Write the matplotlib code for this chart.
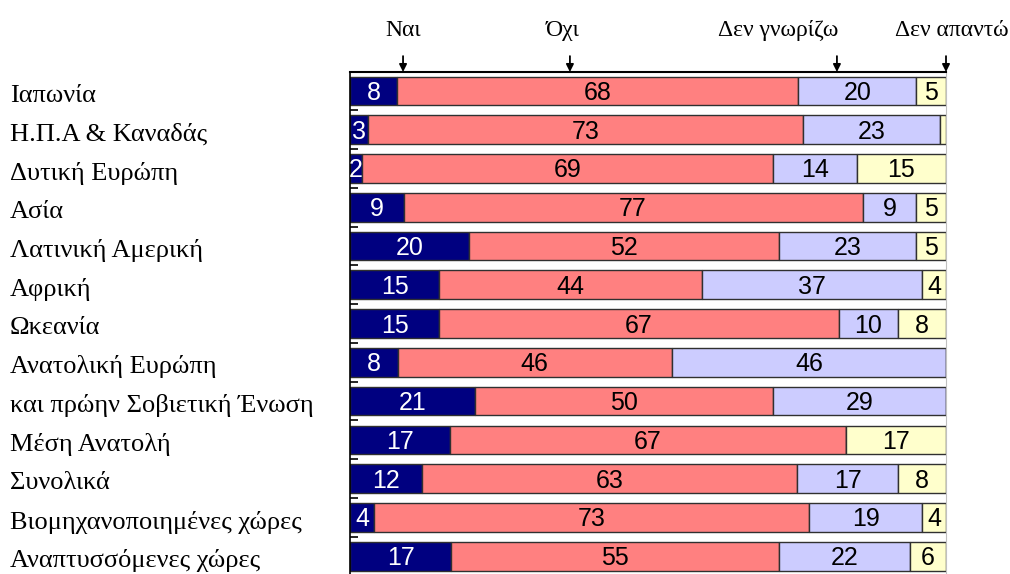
import numpy as np
import matplotlib.pyplot as plt
import matplotlib.transforms as mtransforms

# Δεδομένα (ποσοστά ανά περιοχή)
regions = ["Ιαπωνία", "Η.Π.Α & Καναδάς", "Δυτική Ευρώπη", "Ασία", "Λατινική Αμερική",
           "Αφρική", "Ωκεανία", "Ανατολική Ευρώπη", "και πρώην Σοβιετική Ένωση",
           "Μέση Ανατολή", "Συνολικά", "Βιομηχανοποιημένες χώρες", "Αναπτυσσόμενες χώρες"]
answers = ["Ναι", "Όχι", "Δεν γνωρίζω", "Δεν απαντώ"]
nai = [8, 3, 2, 9, 20, 15, 15, 8, 21, 17, 12, 4, 17]
oxi = [68, 73, 69, 77, 52, 44, 67, 46, 50, 67, 63, 73, 55]
den_gnorizo = [20, 23, 14, 9, 23, 37, 10, 46, 29, 0, 17, 19, 22]
den_apanto = [5, 1, 15, 5, 5, 4, 8, 0, 0, 17, 8, 4, 6]

series = [np.array(nai), np.array(oxi), np.array(den_gnorizo), np.array(den_apanto)]
colors = ["#000080", "#FF8080", "#CCCCFF", "#FFFFCC"]
text_colors = ["white", "black", "black", "black"]

totals = sum(series)
y = np.arange(len(regions))

fig = plt.figure(figsize=(10.1, 5.74), dpi=100)
ax = fig.add_axes([350 / 1010, 0, 596 / 1010, 502 / 574])

left = np.zeros(len(regions))
for vals, col, tcol in zip(series, colors, text_colors):
    w = vals / totals * 100
    ax.barh(y, w, left=left, height=0.74, color=col, edgecolor="#303030", linewidth=1)
    for i in range(len(regions)):
        if vals[i] >= 2:
            ax.text(left[i] + w[i] / 2, y[i] + 0.05, str(vals[i]), ha="center", va="center",
                    fontsize=18, color=tcol,
                    family=["Liberation Sans Narrow", "Liberation Sans"])
    left = left + w

ax.set_xlim(0, 100)
ax.set_ylim(12.46, -0.49)
ax.set_xticks([])
ax.set_yticks(y[:-1] + 0.5)
ax.set_yticklabels([])
ax.tick_params(axis="y", direction="in", length=6, width=1.2, color="black")

ax.spines["bottom"].set_visible(False)
ax.spines["top"].set_linewidth(1.5)
ax.spines["left"].set_linewidth(1.2)
ax.spines["right"].set_color("#c0c0c0")

# Ετικέτες περιοχών
trans = mtransforms.blended_transform_factory(fig.transFigure, ax.transData)
for i, name in enumerate(regions):
    ax.text(10 / 1010, y[i] + 0.12, name, transform=trans, ha="left", va="center",
            fontsize=19, family="Liberation Serif", clip_on=False)

# Επικεφαλίδες με βέλη
text_x = [8.9, 35.6, 71.8, 101.0]
arrow_x = [8.9, 36.9, 81.7, 100]
for lab, tx, axx in zip(answers, text_x, arrow_x):
    ax.text(tx, -1.55, lab, ha="center", va="center", fontsize=17,
            family="Liberation Serif", clip_on=False)
    ax.annotate("", xy=(axx, -0.49), xytext=(axx, -0.9), annotation_clip=False,
                arrowprops=dict(arrowstyle="-|>", color="black", lw=1.3,
                                mutation_scale=11, shrinkA=0, shrinkB=0))

fig.savefig("out.png", dpi=100)
